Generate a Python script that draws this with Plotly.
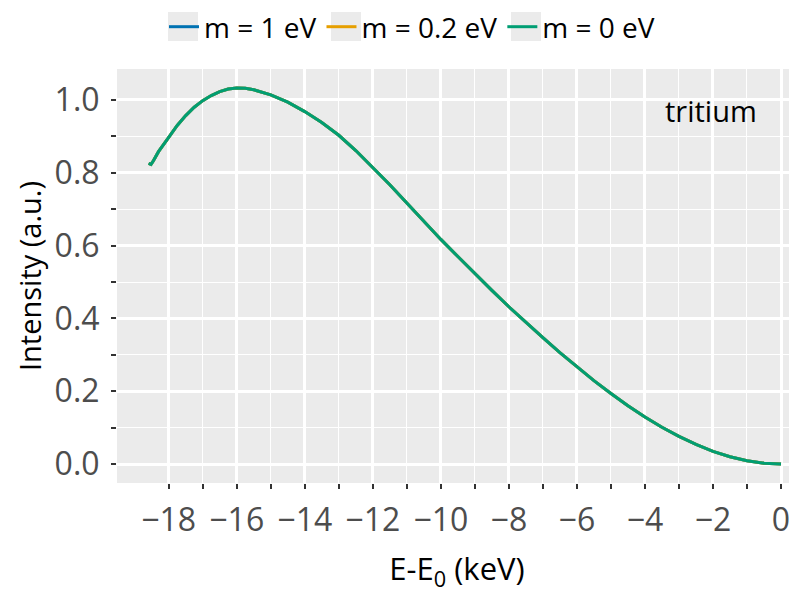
import plotly.graph_objects as go

# Energy relative to endpoint (keV) and normalized intensity
energy_kev = [-18.59, -18.52, -18.45, -18.3, -18.0, -17.75, -17.5, -17.25, -17.0,
              -16.75, -16.5, -16.25, -16.0, -15.75, -15.5, -15.0, -14.5, -14.0,
              -13.5, -13.0, -12.5, -12.0, -11.5, -11.0, -10.5, -10.0, -9.5, -9.0,
              -8.5, -8.0, -7.5, -7.0, -6.5, -6.0, -5.5, -5.0, -4.5, -4.0, -3.5,
              -3.0, -2.5, -2.0, -1.5, -1.0, -0.5, 0.0]
intensity_m1 = [0.826, 0.823, 0.833, 0.858, 0.897, 0.930, 0.957, 0.980, 0.998,
                1.012, 1.023, 1.030, 1.033, 1.032, 1.028, 1.014, 0.994, 0.968,
                0.938, 0.903, 0.861, 0.815, 0.767, 0.717, 0.666, 0.617, 0.570, 0.523,
                0.477, 0.432, 0.389, 0.347, 0.306, 0.267, 0.229, 0.194, 0.160, 0.129, 0.101,
                0.076, 0.054, 0.035, 0.020, 0.009, 0.0025, 0.0]
intensity_m02 = list(intensity_m1)
intensity_m0 = list(intensity_m1)

series_names = ["m = 1 eV", "m = 0.2 eV", "m = 0 eV"]
series_colors = ["#0072B2", "#E69F00", "#009E73"]
series_values = [intensity_m1, intensity_m02, intensity_m0]

x_major = [-18, -16, -14, -12, -10, -8, -6, -4, -2, 0]
x_minor = [-17, -15, -13, -11, -9, -7, -5, -3, -1]
y_major = [0.0, 0.2, 0.4, 0.6, 0.8, 1.0]
y_minor = [0.1, 0.3, 0.5, 0.7, 0.9]

FONT = "Open Sans"

fig = go.Figure()
for name, color, vals in zip(series_names, series_colors, series_values):
    fig.add_trace(go.Scatter(x=energy_kev, y=vals, mode="lines", name=name,
                             line=dict(color=color, width=3)))

fig.add_annotation(x=-2.05, y=0.97, xref="x", yref="y", text="tritium",
                   showarrow=False, font=dict(family=FONT, size=29, color="black"))

# page body has an 8px margin, so the figure is sized to fill the rest of the window
W, H = 789, 585
ml, mr, mt, mb = 109, 0, 61, 110
pw, ph = W - ml - mr, H - mt - mb
LEG_CY = 19  # legend row centre, figure pixels

# grey legend key backgrounds (ggplot style), given in figure pixels
for kx in [160, 323, 503]:
    fig.add_shape(type="rect", xref="paper", yref="paper",
                  x0=(kx - ml) / pw, x1=(kx + 30 - ml) / pw,
                  y0=(H - mb - (LEG_CY + 14)) / ph, y1=(H - mb - (LEG_CY - 15)) / ph,
                  fillcolor="#EBEBEB", line=dict(width=0), layer="above")

axis_common = dict(
    showgrid=True, gridcolor="white", gridwidth=2.5, zeroline=False,
    ticks="outside", ticklen=5, tickwidth=1.5, tickcolor="#333333",
    tickfont=dict(family=FONT, size=32, color="#4D4D4D"),
    showline=False, automargin=False,
)
minor_common = dict(tickmode="array", ticks="outside", ticklen=5, tickwidth=1.5,
                    tickcolor="#333333", showgrid=True, gridcolor="white", gridwidth=1.2)
fig.update_xaxes(range=[-19.52, 0.47], tickmode="array", tickvals=x_major,
                 ticktext=[("\u2212" + str(abs(v))) if v < 0 else str(v) for v in x_major],
                 minor=dict(tickvals=x_minor, **minor_common),
                 ticklabelstandoff=4,
                 title=dict(text="E-E<sub>0</sub> (keV)", font=dict(family=FONT, size=31, color="black"),
                            standoff=24),
                 **axis_common)
fig.update_yaxes(range=[-0.052, 1.085], tickmode="array", tickvals=y_major,
                 ticktext=[f"{v:.1f}" for v in y_major],
                 minor=dict(tickvals=y_minor, **minor_common),
                 ticklabelstandoff=5,
                 title=dict(text="Intensity (a.u.)", font=dict(family=FONT, size=29, color="black"),
                            standoff=4),
                 **axis_common)

fig.update_layout(
    width=W, height=H,
    margin=dict(l=ml, r=mr, t=mt, b=mb, pad=0),
    plot_bgcolor="#EBEBEB", paper_bgcolor="white",
    font=dict(family=FONT, color="black"),
    legend=dict(orientation="h", xref="container", yref="container",
                x=156 / W, xanchor="left", y=1 - LEG_CY / H, yanchor="middle",
                font=dict(family=FONT, size=28, color="black"), bgcolor="rgba(0,0,0,0)",
                itemwidth=30, tracegroupgap=0),
)

fig.write_html("out.html")
